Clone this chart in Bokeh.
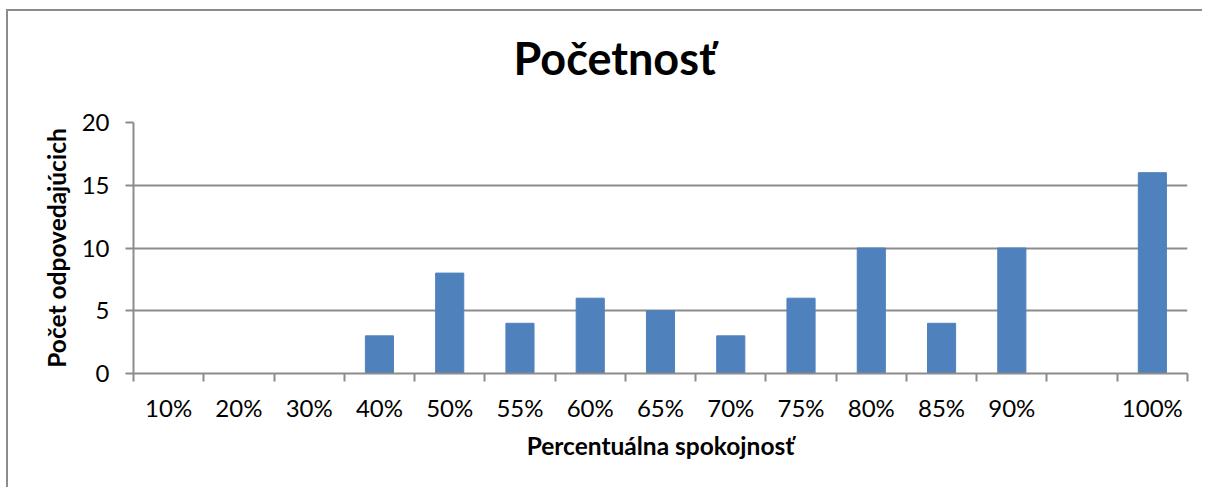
from bokeh.plotting import figure
from bokeh.models import ColumnDataSource, FixedTicker, Range1d, Title
from bokeh.embed import file_html
from bokeh.resources import INLINE

categories = ["10%", "20%", "30%", "40%", "50%", "55%", "60%", "65%", "70%",
              "75%", "80%", "85%", "90%", "", "100%"]
counts = [0, 0, 0, 3, 8, 4, 6, 5, 3, 6, 10, 4, 10, 0, 16]
y_ticks = [0, 5, 10, 15, 20]

FONT = "Lato"
GRAY = "#8c8c8c"
BLUE = "#4f81bd"

n = len(categories)
centers = [i + 0.5 for i in range(n)]
bounds = list(range(n + 1))

src = ColumnDataSource(dict(x=centers, top=counts, cat=categories))

p = figure(width=1196, height=478, output_backend="svg", toolbar_location=None,
           x_range=Range1d(0, n), y_range=Range1d(0, 20),
           min_border_left=125, min_border_right=17, min_border_top=111,
           min_border_bottom=116, title=None)
p.styles = {"border-left": f"2px solid {GRAY}", "border-top": f"2px solid {GRAY}",
            "margin-left": "6px", "margin-top": "9px"}

p.vbar(x="x", top="top", width=0.4, bottom=0, source=src,
       fill_color=BLUE, line_color=BLUE)

spacer = Title(text=" ", text_font=FONT, text_font_size="17px")
p.add_layout(spacer, "above")
title = Title(text="Početnosť", align="left", offset=380,
              text_font=FONT, text_font_size="45px", text_font_style="bold",
              text_color="black")
p.add_layout(title, "above")

p.outline_line_color = None
p.background_fill_color = "white"
p.border_fill_color = "white"

# x axis
xa = p.xaxis[0]
xa.ticker = FixedTicker(ticks=centers, minor_ticks=bounds)
xa.major_label_overrides = {c: lab for c, lab in zip(centers, categories)}
xa.major_tick_out = 0
xa.major_tick_in = 0
xa.minor_tick_out = 8
xa.minor_tick_in = 0
xa.minor_tick_line_color = GRAY
xa.minor_tick_line_width = 2
xa.axis_line_color = GRAY
xa.axis_line_width = 2
xa.major_label_text_font = FONT
xa.major_label_text_font_size = "24px"
xa.major_label_text_color = "black"
xa.major_label_standoff = 11
xa.axis_label = "Percentuálna spokojnosť"
xa.axis_label_text_font = FONT
xa.axis_label_text_font_size = "24.5px"
xa.axis_label_text_font_style = "bold"
xa.axis_label_text_color = "black"
xa.axis_label_standoff = 6

# y axis
ya = p.yaxis[0]
ya.ticker = FixedTicker(ticks=y_ticks, minor_ticks=[])
ya.major_tick_out = 8
ya.major_tick_in = 0
ya.major_tick_line_color = GRAY
ya.major_tick_line_width = 2
ya.axis_line_color = GRAY
ya.axis_line_width = 2
ya.major_label_text_font = FONT
ya.major_label_text_font_size = "24px"
ya.major_label_text_color = "black"
ya.major_label_standoff = 16
ya.axis_label = "Počet odpovedajúcich"
ya.axis_label_text_font = FONT
ya.axis_label_text_font_size = "24.5px"
ya.axis_label_text_font_style = "bold"
ya.axis_label_text_color = "black"
ya.axis_label_standoff = 8

p.xgrid.grid_line_color = None
p.ygrid.ticker = FixedTicker(ticks=y_ticks)
p.ygrid.grid_line_color = GRAY
p.ygrid.grid_line_width = 2

open("out.html", "w").write(file_html(p, INLINE))
